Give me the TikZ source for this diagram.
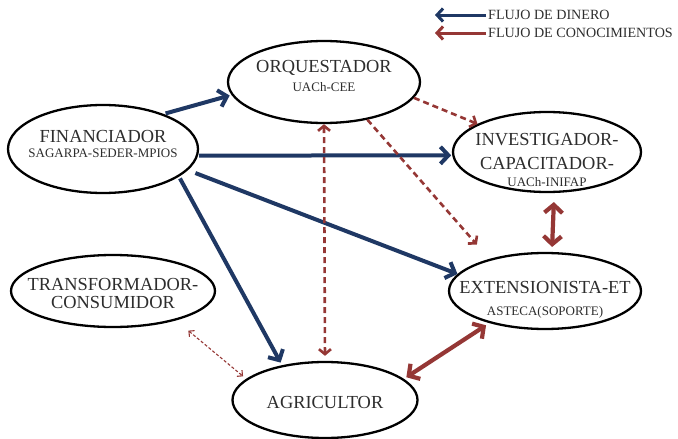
\documentclass[tikz,border=0pt]{standalone}
\usepackage{fontspec}
\setmainfont{Liberation Serif}
\usetikzlibrary{shapes.geometric,arrows.meta}

\definecolor{azuldin}{RGB}{31,56,100}
\definecolor{rojocon}{RGB}{149,55,53}
\definecolor{texto}{RGB}{45,45,45}

\tikzset{
  actor/.style={ellipse, draw=black, line width=2.3pt, inner sep=0pt},
  titulo/.style={text=texto, inner sep=0pt, font=\fontsize{18.4}{20}\selectfont},
  subtit/.style={text=texto, inner sep=0pt, font=\fontsize{13}{14}\selectfont},
  leyenda/.style={text=texto, inner sep=0pt, anchor=west, font=\fontsize{14.1}{16}\selectfont},
  flujodin/.style={draw=azuldin, line width=4pt, -{Straight Barb[length=8pt,width=17pt]}},
  flujocon/.style={draw=rojocon, line width=4.2pt, {Straight Barb[length=8pt,width=18pt]}-{Straight Barb[length=8pt,width=18pt]}},
  flujocondash/.style={draw=rojocon, line width=2.6pt, dash pattern=on 6pt off 4pt, -{Straight Barb[length=5pt,width=12pt]}},
  flujoconfino/.style={draw=rojocon, line width=1.1pt, dash pattern=on 3pt off 2pt, {Straight Barb[length=4pt,width=8pt]}-{Straight Barb[length=4pt,width=8pt]}}
}

\begin{document}
\begin{tikzpicture}[x=1pt, y=-1pt]
    \useasboundingbox (0,0) rectangle (678,439);

    % actores
    \node[actor, minimum width=192pt, minimum height=82pt] (orq) at (324,82) {};
    \node[titulo] (orqt) at (324,68) {ORQUESTADOR};
    \node[subtit] (orqs) at (324,87) {UACh-CEE};

    \node[actor, minimum width=190pt, minimum height=88pt] (fin) at (103,149) {};
    \node[titulo] (fint) at (103,136) {FINANCIADOR};
    \node[subtit] (fins) at (103,153) {SAGARPA-SEDER-MPIOS};

    \node[actor, minimum width=188pt, minimum height=80pt] (inv) at (547,152) {};
    \node[titulo] (invt1) at (547,140) {INVESTIGADOR-};
    \node[titulo] (invt2) at (547,163) {CAPACITADOR-};
    \node[subtit] (invs) at (547,182) {UACh-INIFAP};

    \node[actor, minimum width=192pt, minimum height=76pt] (ext) at (545,291) {};
    \node[titulo] (extt) at (545,287) {EXTENSIONISTA-ET};
    \node[subtit] (exts) at (545,312) {ASTECA(SOPORTE)};

    \node[actor, minimum width=204pt, minimum height=72pt] (tra) at (113,291) {};
    \node[titulo] (trat1) at (113,284) {TRANSFORMADOR-};
    \node[titulo] (trat2) at (113,302) {CONSUMIDOR};

    \node[actor, minimum width=185pt, minimum height=76pt] (agr) at (325,400) {};
    \node[titulo] (agrt) at (325,402) {AGRICULTOR};

    % flujo de dinero
    \draw[flujodin, shorten <=2pt, shorten >=2pt] (fin.30) -- (orq.188);
    \draw[flujodin, shorten <=1pt, shorten >=1pt] (fin.-4) -- (inv.182);
    \draw[flujodin, shorten <=8pt] (fin.-14) -- (ext.169);
    \draw[flujodin, shorten <=2pt, shorten >=3pt] (fin.-20) -- (agr.141);

    % flujo de conocimientos
    \draw[flujocondash] (orq.-10) -- (inv.158.6);
    \draw[flujocondash, shorten >=19pt] (orq.-41.5) -- (ext.150);
    \draw[flujocondash, {Straight Barb[length=5pt,width=12pt]}-{Straight Barb[length=5pt,width=12pt]}, shorten >=5pt] (orq.south) -- (agr.north);
    \draw[flujoconfino, shorten <=16pt, shorten >=4pt] (tra.-25) -- (agr.165);
    \draw[flujocon, shorten <=9pt, shorten >=5pt] (inv.-80) -- (ext.80);
    \draw[flujocon, shorten <=4pt, shorten >=3pt] (ext.210.5) -- (agr.15.5);

    % leyenda
    \node[leyenda] (legdin) at (488,15) {FLUJO DE DINERO};
    \node[leyenda] (legcon) at (488,33) {FLUJO DE CONOCIMIENTOS};
    \coordinate (legdinfin) at (435,15);
    \coordinate (legconfin) at (435,33);
    \draw[flujodin, line width=3pt, -{Straight Barb[length=6pt,width=13pt]}, shorten <=2pt] (legdin.west) -- (legdinfin);
    \draw[draw=rojocon, line width=3pt, -{Straight Barb[length=6pt,width=13pt]}, shorten <=2pt] (legcon.west) -- (legconfin);
\end{tikzpicture}
\end{document}
